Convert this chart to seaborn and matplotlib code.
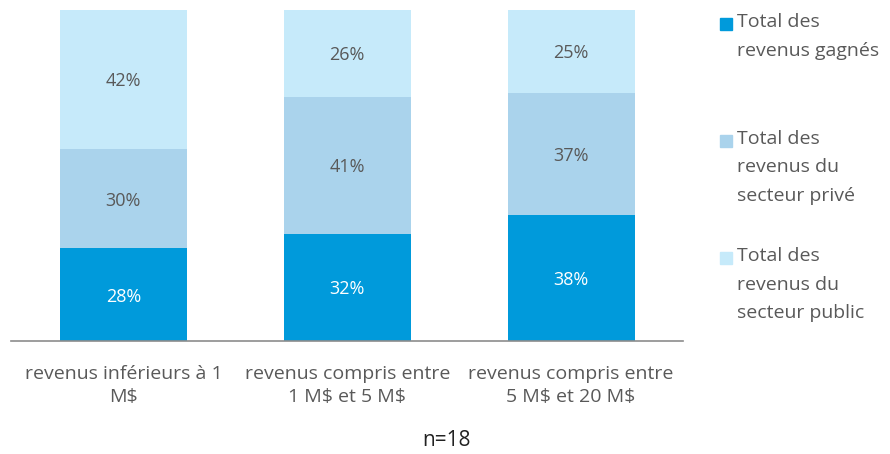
import pandas as pd
import matplotlib
matplotlib.use("Agg")
import matplotlib.pyplot as plt
import seaborn as sns
from matplotlib.patches import Rectangle

# Données
categories = ["revenus inférieurs à 1\nM$", "revenus compris entre\n1 M$ et 5 M$", "revenus compris entre\n5 M$ et 20 M$"]
gagnes = [28, 32, 38]
prive = [30, 41, 37]
public = [42, 26, 25]
series_names = ["Total des\nrevenus gagnés", "Total des\nrevenus du\nsecteur privé", "Total des\nrevenus du\nsecteur public"]
colors = ["#009ADB", "#AAD3EC", "#C6EAFA"]

sns.set_theme(style="white")
plt.rcParams["font.family"] = ["Open Sans", "DejaVu Sans"]
plt.rcParams["text.parse_math"] = False

df = pd.DataFrame({"cat": categories, "gagnes": gagnes, "prive": prive, "public": public})
# barres à 100 % (parts normalisées)
tot = df[["gagnes", "prive", "public"]].sum(axis=1)
df["cum1"] = df["gagnes"] / tot * 100
df["cum2"] = (df["gagnes"] + df["prive"]) / tot * 100
df["cum3"] = (df["gagnes"] + df["prive"] + df["public"]) / tot * 100

fig = plt.figure(figsize=(8.9, 4.54), dpi=100)
ax = fig.add_axes([0.0129, 0.249, 0.7545, 0.729])

# barres empilées : on trace du total cumulé au plus petit
for col, c in [("cum3", colors[2]), ("cum2", colors[1]), ("cum1", colors[0])]:
    sns.barplot(data=df, x="cat", y=col, color=c, width=0.567, saturation=1, ax=ax, linewidth=0)

ax.set_ylim(0, 100)
ax.set_xlim(-0.5, 2.5)
ax.set_xlabel("")
ax.set_ylabel("")
ax.set_yticks([])
for s in ["top", "right", "left"]:
    ax.spines[s].set_visible(False)
ax.spines["bottom"].set_color("#8C8C8C")
ax.spines["bottom"].set_linewidth(1.2)
ax.tick_params(axis="x", length=0, pad=17, labelsize=14, labelcolor="#595959")
ax.set_xticks(range(3))
ax.set_xticklabels(categories, linespacing=1.4)

# étiquettes
for i in range(3):
    ax.text(i, df["cum1"][i] / 2, f"{gagnes[i]}%", ha="center", va="center_baseline", color="white", fontsize=13)
    ax.text(i, (df["cum1"][i] + df["cum2"][i]) / 2, f"{prive[i]}%", ha="center", va="center_baseline", color="#595959", fontsize=13)
    ax.text(i, (df["cum2"][i] + df["cum3"][i]) / 2, f"{public[i]}%", ha="center", va="center_baseline", color="#595959", fontsize=13)

# légende
tops = [24, 141, 258]
for name, c, yt in zip(series_names, colors, tops):
    fig.patches.append(Rectangle((720 / 890, 1 - (yt + 6) / 454), 12 / 890, 12 / 454,
                                 transform=fig.transFigure, color=c, figure=fig))
    fig.text(737 / 890, 1 - (yt - 11) / 454, name, ha="left", va="top", fontsize=14,
             color="#595959", linespacing=1.75)

fig.text(447 / 890, 1 - 440 / 454, "n=18", ha="center", va="center", fontsize=15, color="#222222")

fig.savefig("out.png", dpi=100)
